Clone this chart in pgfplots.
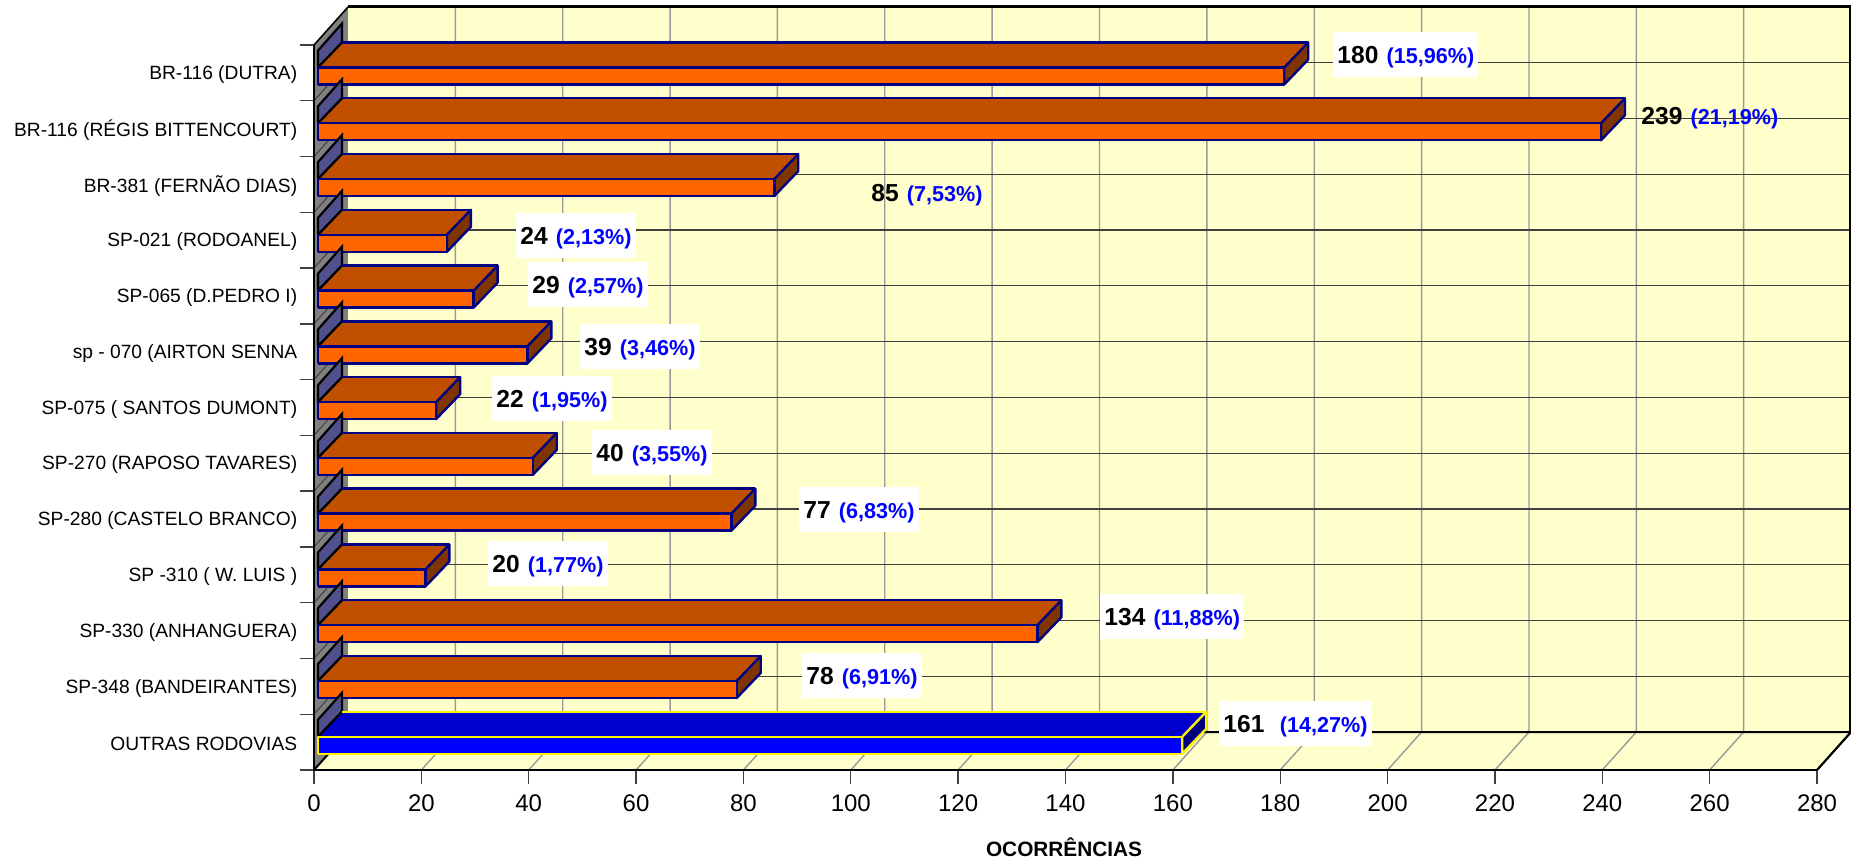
\documentclass[border=0pt]{standalone}
\usepackage{fontspec}
\setmainfont{Liberation Sans}
\usepackage{pgfplots}
\pgfplotsset{compat=1.18}
\definecolor{wall}{HTML}{FFFFCC}
\definecolor{sidew}{HTML}{808080}
\definecolor{gridv}{HTML}{999999}
\definecolor{gridh}{HTML}{404040}
\definecolor{endc}{HTML}{50508C}
\definecolor{ofront}{HTML}{FF6600}
\definecolor{otop}{HTML}{C05000}
\definecolor{oside}{HTML}{803500}
\definecolor{navy}{HTML}{000080}
\definecolor{bfront}{HTML}{0000FF}
\definecolor{btop}{HTML}{0000CC}
\definecolor{bside}{HTML}{000080}
\definecolor{pct}{HTML}{0000FF}
\newcommand\rodbar[6]{%
  \pgfmathsetmacro\yt{702.5-55.77*#1}%
  \pgfmathsetmacro\yb{\yt-17}%
  \pgfmathsetmacro\yu{\yt+25}%
  \pgfmathsetmacro\yv{\yb+25}%
  \pgfmathsetmacro\ya{\yt+17}%
  \pgfmathsetmacro\yz{\yt+44}%
  \pgfmathsetmacro\xb{0.75+#2}%
  \pgfmathsetmacro\xc{\xb+4.47}%
  \edef\temp{\noexpand\addplot[fill=endc,draw=black,line width=1.1pt,line join=miter] coordinates {(0.75,\yt) (0.75,\ya) (5.22,\yz) (5.22,\yu) (0.75,\yt)};}\temp
  \edef\temp{\noexpand\addplot[fill=#4,draw=none] coordinates {(0.75,\yt) (5.22,\yu) (\xc,\yu) (\xb,\yt) (0.75,\yt)};}\temp
  \edef\temp{\noexpand\addplot[draw=black,line width=1.1pt] coordinates {(0.75,\yt) (5.22,\yu)};}\temp
  \edef\temp{\noexpand\addplot[draw=#6,line width=1.2pt] coordinates {(5.22,\yu) (\xc,\yu)};}\temp
  \edef\temp{\noexpand\addplot[fill=#5,draw=#6,line width=1.2pt,line join=round] coordinates {(\xb,\yt) (\xc,\yu) (\xc,\yv) (\xb,\yb) (\xb,\yt)};}\temp
  \edef\temp{\noexpand\addplot[fill=#3,draw=#6,line width=1.2pt,line join=round] coordinates {(0.75,\yb) (0.75,\yt) (\xb,\yt) (\xb,\yb) (0.75,\yb)};}\temp
}
\newcommand\lab[5][white]{%
  \pgfmathsetmacro\lx{(#2-4-314)/2}%
  \pgfmathsetmacro\ly{(770-#3)/2}%
  \node[anchor=west,fill=#1,inner xsep=2pt,inner ysep=0pt,minimum height=22.5pt,text height=9.2pt,text depth=0pt,font=\bfseries] at (\lx pt,\ly pt)
    {\fontsize{12.3}{12}\selectfont #4\,\,{\fontsize{10.8}{10.5}\selectfont\color{pct}#5}};%
}
\begin{document}
\begin{tikzpicture}
\path[use as bounding box] (-157pt,-44.5pt) rectangle (768.5pt,385pt);
\begin{axis}[
  scale only axis, width=768.5pt, height=385pt,
  xmin=0, xmax=286.33, ymin=0, ymax=770,
  clip=false,
  axis line style={draw=none},
  tick align=outside,
  major tick length=7pt,
  tick style={black!75,line width=0.7pt},
  xtick pos=bottom, ytick pos=left,
  xtick={0,20,...,280},
  ytick={0,55.77,111.54,167.31,223.08,278.85,334.62,390.39,446.16,501.93,557.7,613.47,669.24,725.01},
  yticklabels={{},OUTRAS RODOVIAS,SP-348 (BANDEIRANTES),SP-330 (ANHANGUERA),{SP -310 ( W. LUIS )},SP-280 (CASTELO BRANCO),SP-270 (RAPOSO TAVARES),{SP-075 ( SANTOS DUMONT)},sp - 070 (AIRTON SENNA,SP-065 (D.PEDRO I),SP-021 (RODOANEL),BR-381 (FERNÃO DIAS),BR-116 (RÉGIS BITTENCOURT),BR-116 (DUTRA)},
  yticklabel style={font=\fontsize{9.6}{10}\selectfont,anchor=east,yshift=-14.8pt,xshift=-1.2pt,inner sep=0pt,/pgf/number format/assume math mode=true},
  xticklabel style={font=\fontsize{12}{12}\selectfont,/pgf/number format/assume math mode=true,inner sep=0pt,yshift=-5.4pt},
  ylabel={},
  xlabel={\fontsize{10.4}{11}\selectfont\bfseries OCORRÊNCIAS},
  xlabel style={at={(axis description cs:0.488,0)},anchor=center,yshift=-38.5pt},
]
% walls and floor
\addplot[fill=wall,draw=none] coordinates {(6.334,38) (286.33,38) (286.33,763) (6.334,763) (6.334,38)};
\addplot[fill=wall,draw=none] coordinates {(0,0) (280,0) (286.33,38) (6.334,38) (0,0)};
\addplot[fill=sidew,draw=none] coordinates {(0,0) (6.334,38) (6.334,763) (0,725) (0,0)};
% vertical grid on wall and floor
\pgfplotsforeachungrouped \v in {20,40,...,280}{%
  \pgfmathsetmacro\w{\v+6.334}%
  \edef\temp{\noexpand\addplot[draw=gridv,line width=0.7pt] coordinates {(\v,0) (\w,38) (\w,763)};}\temp
}
% horizontal grid
\pgfplotsforeachungrouped \k in {1,2,...,12}{%
  \pgfmathsetmacro\yy{38+55.77*\k}%
  \pgfmathsetmacro\yf{55.77*\k}%
  \edef\temp{\noexpand\addplot[draw=gridh,line width=0.6pt] coordinates {(6.334,\yy) (286.33,\yy)};}\temp
  \edef\temp{\noexpand\addplot[draw=gridh,line width=0.5pt] coordinates {(0,\yf) (6.334,\yy)};}\temp
}
\addplot[draw=black,line width=1pt] coordinates {(0,0) (6.334,38) (286.33,38)};
\addplot[draw=black,line width=1.1pt] coordinates {(280,0) (286.33,38)};
\addplot[draw=black,line width=1pt] coordinates {(0,725) (0,0) (280,0)};
\addplot[draw=black,line width=0.8pt] coordinates {(0,725) (6.334,763)};
\addplot[draw=black,line width=1.1pt] coordinates {(6.334,763.5) (286.33,763.5)};
\addplot[draw=black,line width=1pt] coordinates {(286.2,38) (286.2,763.5)};
% bars: row, value
\rodbar{0}{180}{ofront}{otop}{oside}{navy}
\rodbar{1}{239}{ofront}{otop}{oside}{navy}
\rodbar{2}{85}{ofront}{otop}{oside}{navy}
\rodbar{3}{24}{ofront}{otop}{oside}{navy}
\rodbar{4}{29}{ofront}{otop}{oside}{navy}
\rodbar{5}{39}{ofront}{otop}{oside}{navy}
\rodbar{6}{22}{ofront}{otop}{oside}{navy}
\rodbar{7}{40}{ofront}{otop}{oside}{navy}
\rodbar{8}{77}{ofront}{otop}{oside}{navy}
\rodbar{9}{20}{ofront}{otop}{oside}{navy}
\rodbar{10}{134}{ofront}{otop}{oside}{navy}
\rodbar{11}{78}{ofront}{otop}{oside}{navy}
\rodbar{12}{161}{bfront}{btop}{bside}{yellow}
\end{axis}
\lab{1337}{54.5}{180}{(15,96\%)}
\lab[none]{1641}{115}{239}{(21,19\%)}
\lab[none]{871}{192}{85}{(7,53\%)}
\lab{520}{235}{24}{(2,13\%)}
\lab{532}{284}{29}{(2,57\%)}
\lab{584}{346}{39}{(3,46\%)}
\lab{496}{398}{22}{(1,95\%)}
\lab{596}{452}{40}{(3,55\%)}
\lab{803}{509}{77}{(6,83\%)}
\lab{492}{563}{20}{(1,77\%)}
\lab{1104}{616.5}{134}{(11,88\%)}
\lab{806}{675}{78}{(6,91\%)}
\lab{1223}{723.5}{161}{\,\,(14,27\%)}
\end{tikzpicture}
\end{document}
